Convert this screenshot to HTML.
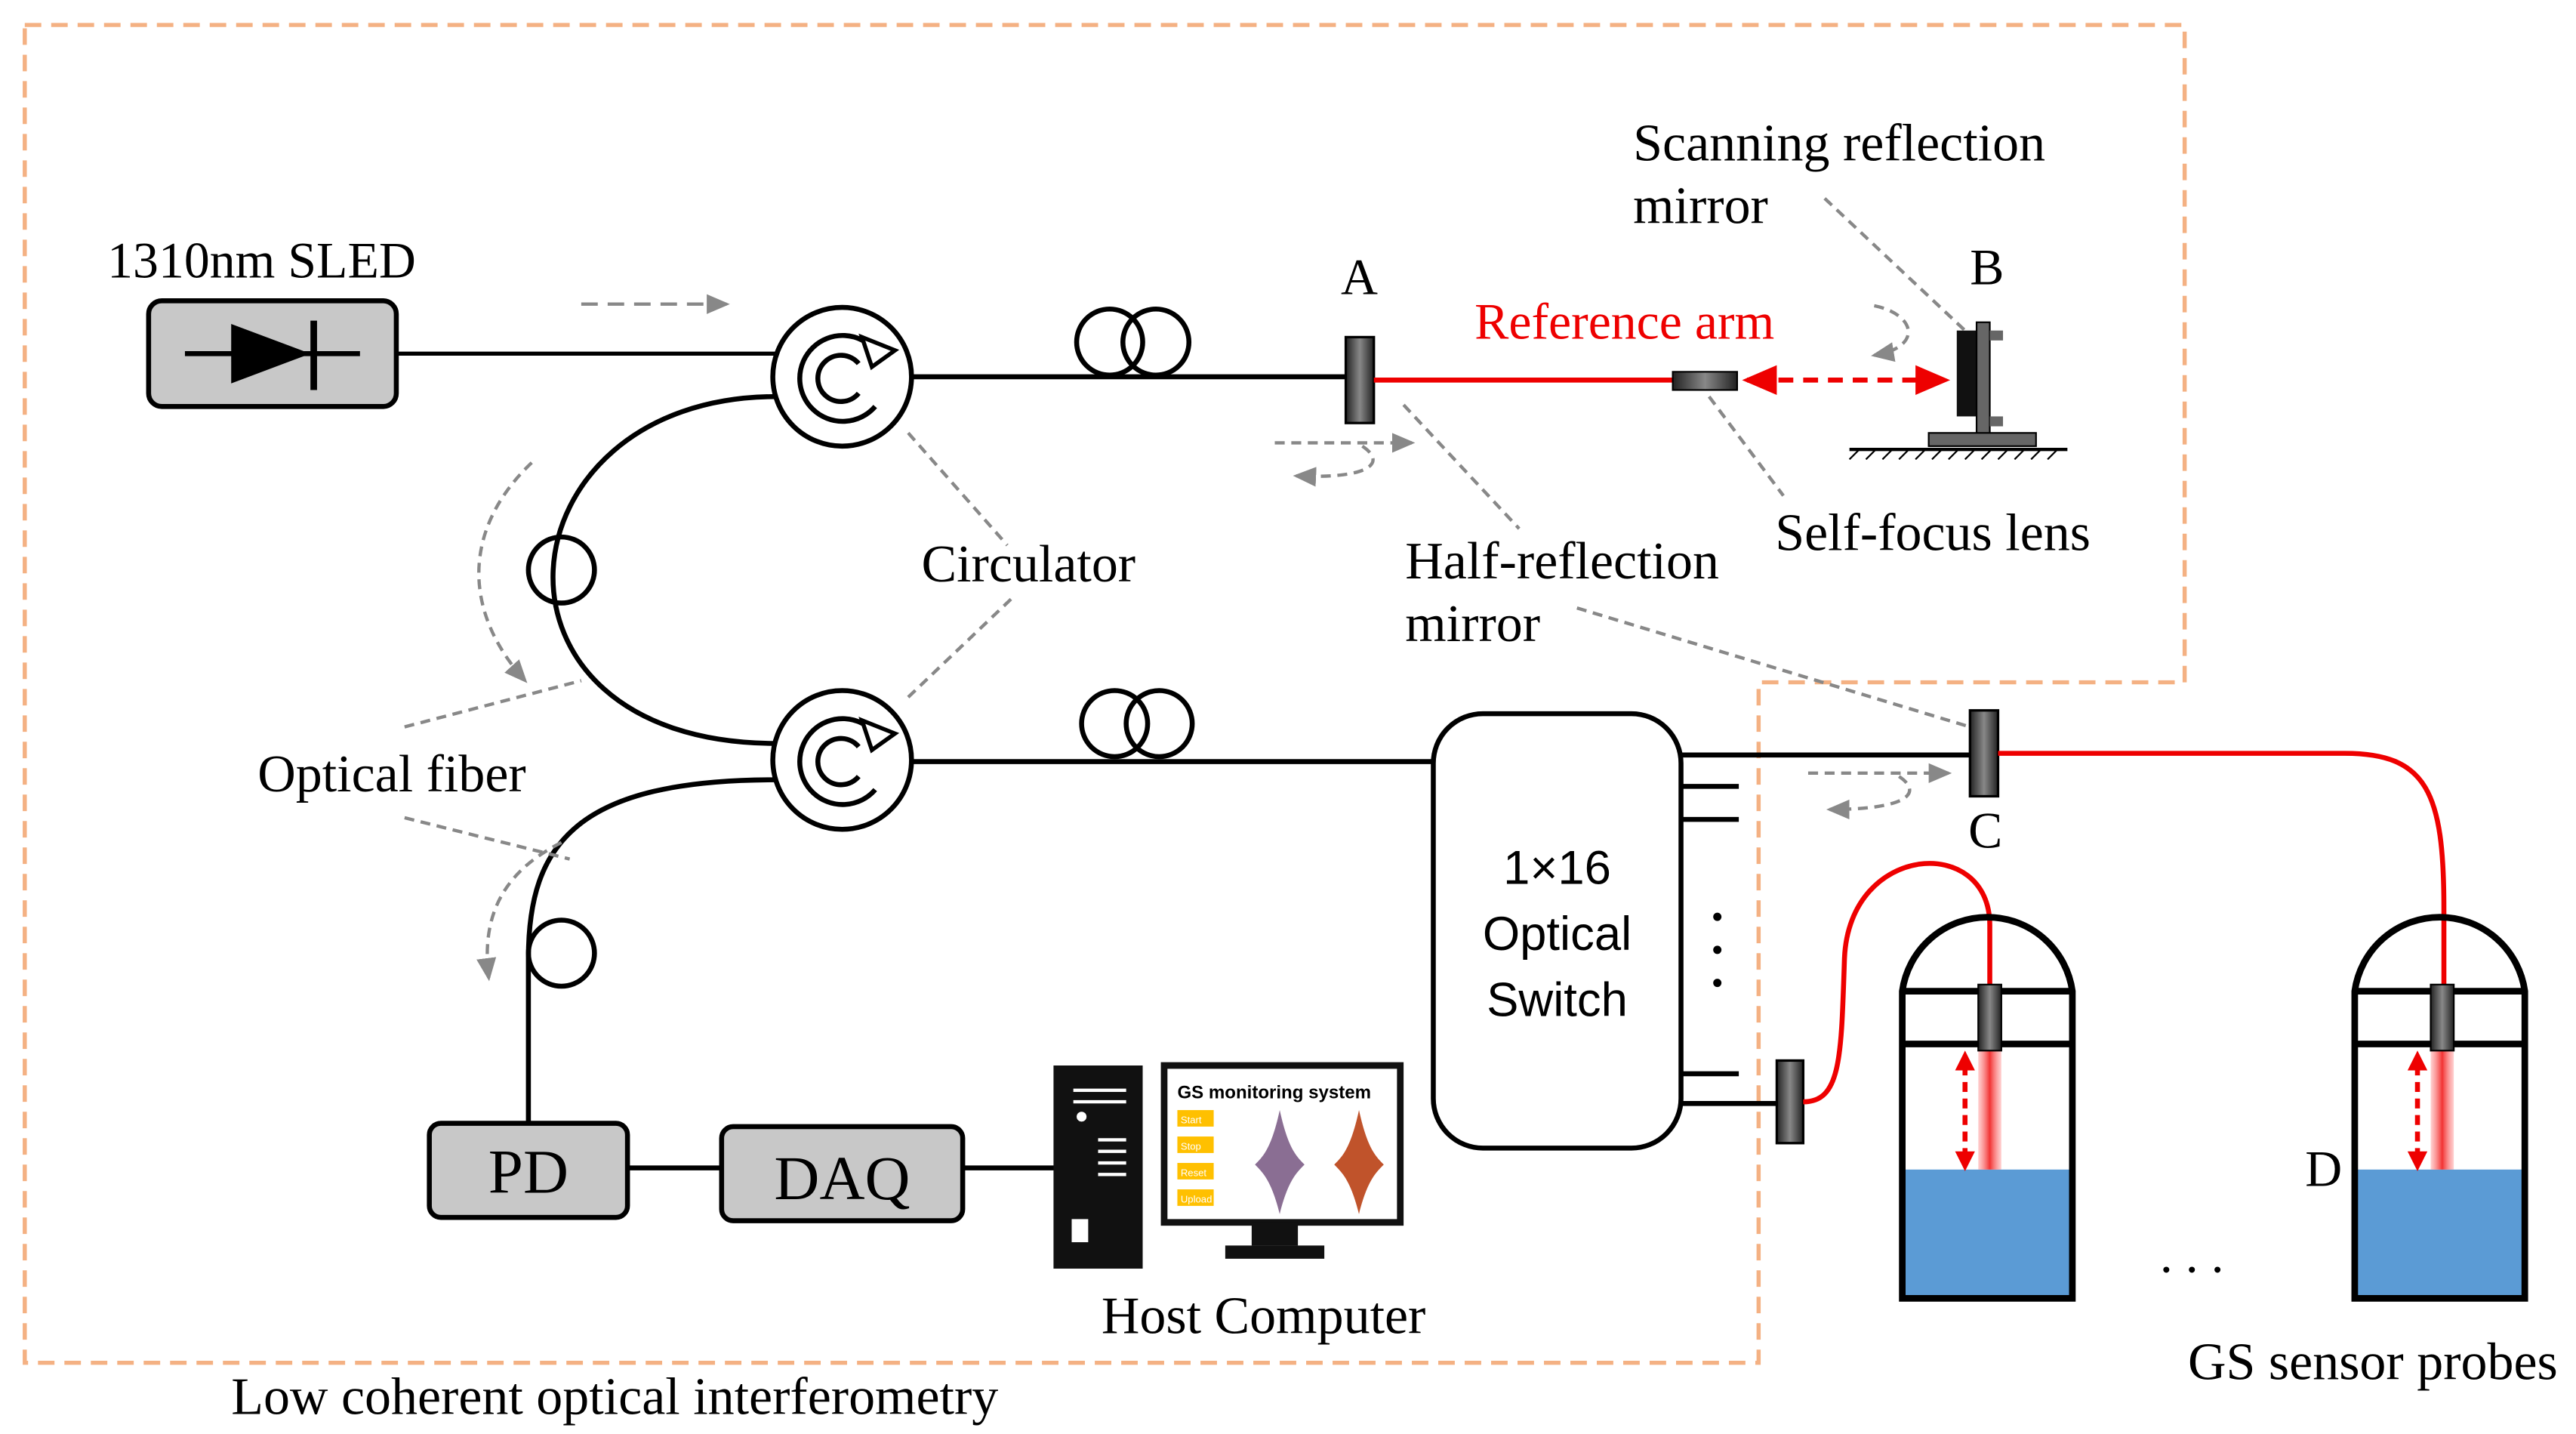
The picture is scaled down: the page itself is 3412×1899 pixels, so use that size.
<!DOCTYPE html>
<html><head><meta charset="utf-8"><style>html,body{margin:0;padding:0;background:#fff}svg{display:block}</style></head><body>
<svg width="3412" height="1899" viewBox="0 0 1560 868" xmlns="http://www.w3.org/2000/svg" font-family="Liberation Serif, serif">
<defs>
<linearGradient id="mg" x1="0" x2="1"><stop offset="0" stop-color="#222"/><stop offset="0.5" stop-color="#888"/><stop offset="1" stop-color="#222"/></linearGradient>
<linearGradient id="beam" x1="0" x2="1"><stop offset="0" stop-color="#f66" stop-opacity="0.3"/><stop offset="0.5" stop-color="#e00" stop-opacity="0.8"/><stop offset="1" stop-color="#f66" stop-opacity="0.3"/></linearGradient>
<marker id="ar" markerWidth="8" markerHeight="8" refX="6" refY="4" orient="auto"><path d="M0,1 L7,4 L0,7 z" fill="#e00"/></marker>
<marker id="ag" markerWidth="8" markerHeight="8" refX="6" refY="4" orient="auto"><path d="M0,1 L7,4 L0,7 z" fill="#888"/></marker>
</defs>
<path d="M15,15 H1323 V413 H1065 V825 H15 Z" fill="none" stroke="#f4b183" stroke-width="2.5" stroke-dasharray="10,6"/>
<rect x="90" y="182" width="150" height="64" rx="8" fill="#c8c8c8" stroke="#000" stroke-width="3"/>
<line x1="112" y1="214" x2="218" y2="214" stroke="#000" stroke-width="3"/>
<path d="M140,196 L188,214 L140,232 Z" fill="#000"/><line x1="190" y1="194" x2="190" y2="236" stroke="#000" stroke-width="4"/>
<text x="65" y="168" font-size="31">1310nm SLED</text>
<line x1="240" y1="214" x2="470" y2="214" stroke="#000" stroke-width="2.5"/>
<line x1="352" y1="184" x2="440" y2="184" stroke="#888" stroke-width="2" stroke-dasharray="10,6" marker-end="url(#ag)"/>
<g stroke="#000" fill="#fff" stroke-width="3">
<circle cx="510" cy="228" r="42"/><circle cx="510" cy="460" r="42"/>
</g>
<g fill="none" stroke="#000" stroke-width="3">
<path d="M530,212 A26,26 0 1 0 530,246"/><path d="M520,220 A14,14 0 1 0 520,238"/>
<path d="M530,444 A26,26 0 1 0 530,478"/><path d="M520,452 A14,14 0 1 0 520,470"/>
</g>
<path d="M522,204 L542,212 L528,222 Z" fill="#fff" stroke="#000" stroke-width="2.5"/>
<path d="M522,436 L542,444 L528,454 Z" fill="#fff" stroke="#000" stroke-width="2.5"/>
<g fill="none" stroke="#000" stroke-width="3">
<line x1="552" y1="228" x2="815" y2="228"/>
<circle cx="672" cy="207" r="20"/><circle cx="700" cy="207" r="20"/>
<path d="M470,240 C300,240 280,450 470,450"/>
<circle cx="340" cy="345" r="20"/>
<path d="M470,472 C350,472 320,510 320,580 L320,680"/>
<circle cx="340" cy="577" r="20"/>
<line x1="552" y1="461" x2="868" y2="461"/>
<circle cx="675" cy="438" r="20"/><circle cx="702" cy="438" r="20"/>
<line x1="380" y1="707" x2="437" y2="707"/><line x1="583" y1="707" x2="640" y2="707"/>
<line x1="1018" y1="457" x2="1193" y2="457"/>
<line x1="1018" y1="476" x2="1053" y2="476"/><line x1="1018" y1="496" x2="1053" y2="496"/>
<line x1="1018" y1="650" x2="1053" y2="650"/><line x1="1018" y1="668" x2="1076" y2="668"/>
</g>
<rect x="815" y="204" width="17" height="52" fill="url(#mg)" stroke="#000" stroke-width="1.5"/>
<text x="812" y="178" font-size="31">A</text>
<line x1="832" y1="230" x2="1013" y2="230" stroke="#e00" stroke-width="3"/>
<rect x="1013" y="225" width="39" height="11" fill="url(#mg)" stroke="#000"/>
<line x1="1062" y1="230" x2="1178" y2="230" stroke="#e00" stroke-width="3" stroke-dasharray="9,6" marker-end="url(#ar)"/>
<path d="M1070,230 L1058,230" stroke="#e00" stroke-width="3" marker-end="url(#ar)"/>
<text x="893" y="205" font-size="31" fill="#e00">Reference arm</text>
<rect x="1185" y="200" width="12" height="52" fill="#111"/>
<rect x="1197" y="195" width="8" height="70" fill="#666" stroke="#000"/>
<rect x="1205" y="200" width="8" height="6" fill="#666"/><rect x="1205" y="252" width="8" height="6" fill="#666"/>
<rect x="1168" y="262" width="65" height="8" fill="#666" stroke="#000"/>
<line x1="1120" y1="272" x2="1252" y2="272" stroke="#000" stroke-width="2"/>
<path d="M1120,278 l6,-6 M1130,278 l6,-6 M1140,278 l6,-6 M1150,278 l6,-6 M1160,278 l6,-6 M1170,278 l6,-6 M1180,278 l6,-6 M1190,278 l6,-6 M1200,278 l6,-6 M1210,278 l6,-6 M1220,278 l6,-6 M1230,278 l6,-6 M1240,278 l6,-6" stroke="#000"/>
<text x="1193" y="172" font-size="31">B</text>
<text x="989" y="97" font-size="32">Scanning reflection</text>
<text x="989" y="135" font-size="32">mirror</text>
<g stroke="#888" stroke-width="2" stroke-dasharray="6,4" fill="none">
<line x1="1105" y1="120" x2="1190" y2="200"/>
<line x1="1035" y1="240" x2="1080" y2="300"/>
<line x1="850" y1="245" x2="920" y2="320"/>
<line x1="955" y1="368" x2="1193" y2="440"/>
<line x1="550" y1="262" x2="610" y2="330"/>
<line x1="550" y1="422" x2="615" y2="360"/>
<line x1="245" y1="440" x2="352" y2="412"/>
<line x1="245" y1="495" x2="345" y2="520"/>
<path d="M1135,185 C1160,190 1165,210 1135,215" marker-end="url(#ag)"/>
<path d="M772,268 L855,268" marker-end="url(#ag)"/>
<path d="M825,270 C840,280 830,290 785,288" marker-end="url(#ag)"/>
<path d="M1095,468 L1180,468" marker-end="url(#ag)"/>
<path d="M1150,470 C1165,480 1155,490 1108,490" marker-end="url(#ag)"/>
<path d="M322,280 C280,320 280,370 318,412" marker-end="url(#ag)"/>
<path d="M340,510 C300,530 292,560 296,592" marker-end="url(#ag)"/>
</g>
<text x="1075" y="333" font-size="32">Self-focus lens</text>
<text x="851" y="350" font-size="32">Half-reflection</text>
<text x="851" y="388" font-size="32">mirror</text>
<text x="558" y="352" font-size="32">Circulator</text>
<text x="156" y="479" font-size="32">Optical fiber</text>
<rect x="868" y="432" width="150" height="263" rx="30" fill="#fff" stroke="#000" stroke-width="3"/>
<g font-family="Liberation Sans, sans-serif" font-size="29" text-anchor="middle">
<text x="943" y="535">1×16</text><text x="943" y="575">Optical</text><text x="943" y="615">Switch</text>
</g>
<g fill="#000"><circle cx="1040" cy="555" r="2.5"/><circle cx="1040" cy="575" r="2.5"/><circle cx="1040" cy="595" r="2.5"/></g>
<rect x="1193" y="430" width="17" height="52" fill="url(#mg)" stroke="#000" stroke-width="1.5"/>
<text x="1192" y="513" font-size="31">C</text>
<path d="M1210,456 L1420,456 C1470,456 1480,480 1480,550 L1480,598" fill="none" stroke="#e00" stroke-width="3"/>
<rect x="1076" y="642" width="16" height="50" fill="url(#mg)" stroke="#000" stroke-width="1.5"/>
<path d="M1092,667 C1115,667 1115,640 1117,580 C1120,510 1205,505 1205,560 L1205,598" fill="none" stroke="#e00" stroke-width="3"/>
<g id="p1">
<rect x="1152" y="708" width="103" height="78" fill="#5b9bd5"/>
<path d="M1152,786 V600 A52,52 0 0 1 1255,600 V786 Z" fill="none" stroke="#000" stroke-width="4"/>
<line x1="1152" y1="600" x2="1255" y2="600" stroke="#000" stroke-width="4"/>
<line x1="1152" y1="632" x2="1255" y2="632" stroke="#000" stroke-width="4"/>
<rect x="1198" y="636" width="14" height="72" fill="url(#beam)"/>
<rect x="1198" y="596" width="14" height="40" fill="url(#mg)" stroke="#000"/>
<line x1="1190" y1="645" x2="1190" y2="700" stroke="#e00" stroke-width="3" stroke-dasharray="6,4"/>
<path d="M1184,648 L1190,636 L1196,648 Z M1184,697 L1190,709 L1196,697 Z" fill="#e00"/>
</g>
<use href="#p1" transform="translate(274,0)"/>
<text x="1396" y="718" font-size="31">D</text>
<text x="1308" y="770" font-size="31">. . .</text>
<text x="1325" y="835" font-size="32">GS sensor probes</text>
<rect x="260" y="680" width="120" height="57" rx="7" fill="#c8c8c8" stroke="#000" stroke-width="3"/>
<text x="320" y="722" font-size="38" text-anchor="middle">PD</text>
<rect x="437" y="682" width="146" height="57" rx="7" fill="#c8c8c8" stroke="#000" stroke-width="3"/>
<text x="510" y="726" font-size="38" text-anchor="middle">DAQ</text>
<rect x="638" y="645" width="54" height="123" fill="#111"/>
<g stroke="#fff" stroke-width="2"><line x1="650" y1="660" x2="682" y2="660"/><line x1="650" y1="667" x2="682" y2="667"/><line x1="665" y1="690" x2="682" y2="690"/><line x1="665" y1="697" x2="682" y2="697"/><line x1="665" y1="704" x2="682" y2="704"/><line x1="665" y1="711" x2="682" y2="711"/></g>
<circle cx="655" cy="676" r="3" fill="#fff"/><rect x="649" y="738" width="10" height="14" fill="#fff"/>
<rect x="705" y="645" width="143" height="95" fill="#fff" stroke="#111" stroke-width="4"/>
<rect x="758" y="740" width="28" height="14" fill="#111"/><rect x="742" y="754" width="60" height="8" fill="#111"/>
<text x="713" y="665" font-size="11" font-family="Liberation Sans, sans-serif" font-weight="bold">GS monitoring system</text>
<g fill="#ffc000"><rect x="713" y="672" width="22" height="10"/><rect x="713" y="688" width="22" height="10"/><rect x="713" y="704" width="22" height="10"/><rect x="713" y="720" width="22" height="10"/></g>
<g font-size="6" font-family="Liberation Sans, sans-serif" fill="#fff"><text x="715" y="680">Start</text><text x="715" y="696">Stop</text><text x="715" y="712">Reset</text><text x="715" y="728">Upload</text></g>
<path d="M775,672 C770,695 765,700 760,705 C765,710 770,715 775,735 C780,715 785,710 790,705 C785,700 780,695 775,672Z" fill="#8a6e93"/>
<path d="M823,672 C818,695 813,700 808,705 C813,710 818,715 823,735 C828,715 833,710 838,705 C833,700 828,695 823,672Z" fill="#c0532b"/>
<text x="667" y="807" font-size="32">Host Computer</text>
<text x="140" y="856" font-size="32">Low coherent optical interferometry</text>
</svg>
</body></html>
